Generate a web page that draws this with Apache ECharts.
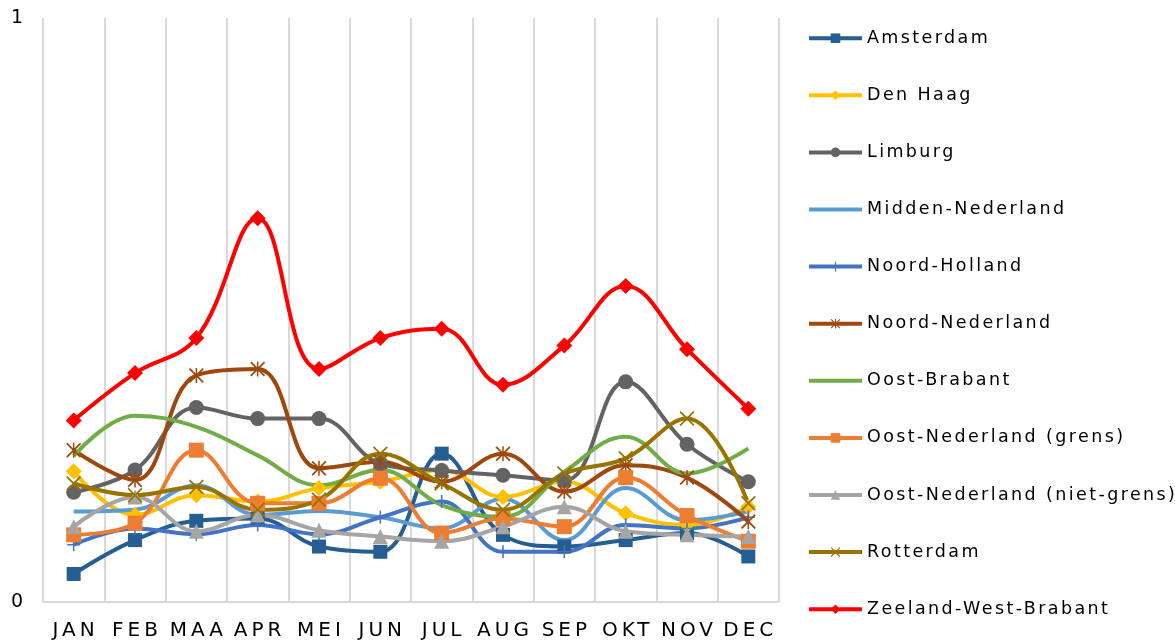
<!DOCTYPE html>
<html><head><meta charset="utf-8">
<script src="https://cdn.jsdelivr.net/npm/echarts@6/dist/echarts.min.js"></script>
<style>html,body{margin:0;padding:0;background:#fff}#c{width:1175px;height:643px}</style>
</head><body><div id="c"></div>
<script>
const months = ['JAN','FEB','MAA','APR','MEI','JUN','JUL','AUG','SEP','OKT','NOV','DEC'];
const yTicks = [0, 1];
const amsterdam      = [0.048,0.106,0.139,0.143,0.095,0.086,0.254,0.115,0.095,0.106,0.118,0.078];
const denHaag        = [0.224,0.149,0.183,0.172,0.195,0.206,0.226,0.180,0.206,0.152,0.132,0.163];
const limburg        = [0.188,0.226,0.333,0.314,0.314,0.237,0.225,0.217,0.208,0.377,0.270,0.206];
const middenNL       = [0.155,0.158,0.200,0.149,0.156,0.145,0.126,0.177,0.106,0.195,0.140,0.155];
const noordHolland   = [0.098,0.126,0.116,0.132,0.116,0.145,0.172,0.086,0.086,0.132,0.126,0.145];
const noordNL        = [0.260,0.209,0.388,0.399,0.229,0.240,0.206,0.254,0.189,0.234,0.213,0.138];
const oostBrabant    = [0.250,0.319,0.300,0.251,0.200,0.226,0.166,0.146,0.223,0.283,0.220,0.263];
const oostNLgrens    = [0.115,0.135,0.260,0.169,0.169,0.212,0.118,0.143,0.129,0.213,0.148,0.104];
const oostNLnietGrens= [0.129,0.180,0.121,0.149,0.123,0.112,0.104,0.129,0.163,0.121,0.115,0.112];
const rotterdam      = [0.203,0.183,0.197,0.158,0.175,0.254,0.203,0.158,0.220,0.246,0.314,0.169];
const zeeland        = [0.311,0.392,0.452,0.657,0.399,0.452,0.468,0.372,0.439,0.541,0.433,0.331];

// letter spacing like the original (expanded character spacing)
(function(){
  const P = CanvasRenderingContext2D.prototype;
  function sp(ctx){
    const f = ctx.font || '';
    if (f.indexOf('20px') >= 0) ctx.letterSpacing = '4px';
    else if (f.indexOf('17.5px') >= 0) ctx.letterSpacing = '2.4px';
    else ctx.letterSpacing = '0px';
  }
  const ft = P.fillText, mt = P.measureText;
  P.fillText = function(){ sp(this); return ft.apply(this, arguments); };
  P.measureText = function(){ sp(this); return mt.apply(this, arguments); };
})();

const PLUS = 'path://M5.3,0 L6.7,0 L6.7,5.3 L12,5.3 L12,6.7 L6.7,6.7 L6.7,12 L5.3,12 L5.3,6.7 L0,6.7 L0,5.3 L5.3,5.3 Z';
const XS = 'path://M0,1 L1,0 L6,5 L11,0 L12,1 L7,6 L12,11 L11,12 L6,7 L1,12 L0,11 L5,6 Z';
const AST = 'path://M0,1 L1,0 L6,5 L11,0 L12,1 L7,6 L12,11 L11,12 L6,7 L1,12 L0,11 L5,6 Z M5.4,0 L6.6,0 L6.6,12 L5.4,12 Z';
const BAR = 'path://M0,0 L0,0 Z M53,12 L53,12 Z M0,4 L53,4 L53,8 L0,8 Z';

const defs = [
  ['Amsterdam', amsterdam, '#255E91', 'rect', 14],
  ['Den Haag', denHaag, '#FFC000', 'diamond', 16],
  ['Limburg', limburg, '#636363', 'circle', 15],
  ['Midden-Nederland', middenNL, '#5B9BD5', 'none', 0],
  ['Noord-Holland', noordHolland, '#4472C4', PLUS, 13],
  ['Noord-Nederland', noordNL, '#9E480E', AST, 15],
  ['Oost-Brabant', oostBrabant, '#70AD47', 'none', 0],
  ['Oost-Nederland (grens)', oostNLgrens, '#ED7D31', 'rect', 15],
  ['Oost-Nederland (niet-grens)', oostNLnietGrens, '#A5A5A5', 'triangle', 15],
  ['Rotterdam', rotterdam, '#997300', XS, 15],
  ['Zeeland-West-Brabant', zeeland, '#FF0000', 'diamond', 16]
];

const FONT = "'DejaVu Sans', Verdana, sans-serif";
const chart = echarts.init(document.getElementById('c'), null, {renderer:'canvas'});
chart.setOption({
  animation: false,
  backgroundColor: '#fff',
  grid: {left: 43, right: 396, top: 18, bottom: 39, containLabel: false},
  legend: {
    orient: 'vertical', left: 807, top: 28, padding: 0,
    itemWidth: 53, itemHeight: 12, itemGap: 36.7, itemTextGap: 6,
    lineStyle: {width: 4},
    textStyle: {fontFamily: FONT, fontSize: 17.5, color: '#000', lineHeight: 20},
    data: defs.map(d => d[3] === 'none' ? {name: d[0], icon: BAR} : {name: d[0]})
  },
  xAxis: {
    type: 'category', data: months, boundaryGap: true,
    axisLine: {show: true, lineStyle: {color: '#D9D9D9', width: 2}},
    axisTick: {show: false, interval: 0},
    splitLine: {show: true, interval: 0, lineStyle: {color: '#D9D9D9', width: 2}},
    axisLabel: {interval: 0, fontFamily: FONT, fontSize: 20, color: '#000', margin: 17,
                padding: [0, 0, 0, 4], hideOverlap: false}
  },
  yAxis: {
    type: 'value', min: yTicks[0], max: yTicks[1], interval: 1,
    axisLine: {show: false}, axisTick: {show: false}, splitLine: {show: false},
    axisLabel: {fontFamily: FONT, fontSize: 19, color: '#000', margin: 20}
  },
  series: defs.map(d => ({
    name: d[0], type: 'line', data: d[1], smooth: 0.4,
    symbol: d[3], symbolSize: d[4], showSymbol: d[3] !== 'none',
    lineStyle: {color: d[2], width: 4},
    itemStyle: {color: d[2]}
  }))
});
</script></body></html>
